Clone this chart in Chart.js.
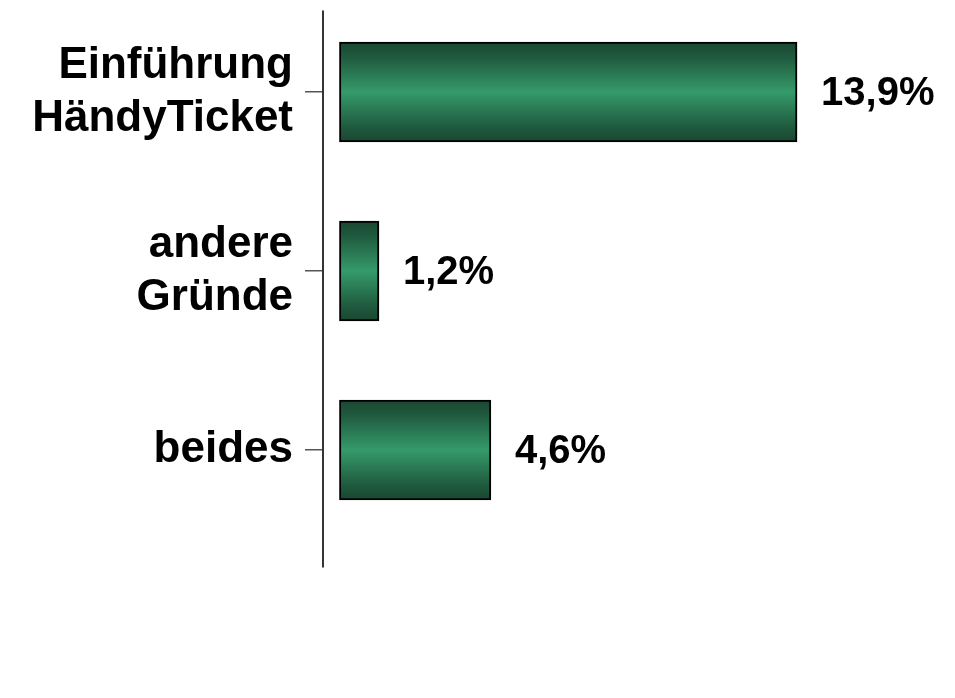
<!DOCTYPE html>
<html>
<head>
<meta charset="utf-8">
<script src="https://cdn.jsdelivr.net/npm/chart.js@4"></script>
<style>
  html, body { margin: 0; padding: 0; background: #fff; }
  #wrap { width: 955px; height: 698px; }
</style>
</head>
<body>
<div id="wrap"><canvas id="barChart"></canvas></div>
<script>
// Gründe (Anteile in %)
const categories = [["Einführung", "HändyTicket"], ["andere", "Gründe"], "beides"];
const shares = [13.9, 1.2, 4.6];
const valueLabels = ["13,9%", "1,2%", "4,6%"];

const FONT = "'Liberation Sans', Arial, sans-serif";
const BAR_THICKNESS = 100;

// dark green at top and bottom edge, lighter green in the middle
function barFill(ctx) {
  const chart = ctx.chart;
  const yScale = chart.scales.y;
  if (!yScale || ctx.dataIndex === undefined) return "#2e8b5e";
  const mid = yScale.getPixelForValue(ctx.dataIndex);
  if (!isFinite(mid)) return "#2e8b5e";
  const top = mid - BAR_THICKNESS / 2;
  const g = chart.ctx.createLinearGradient(0, top, 0, top + BAR_THICKNESS);
  g.addColorStop(0, "#1a4631");
  g.addColorStop(0.15, "#1f5a3e");
  g.addColorStop(0.5, "#359a6a");
  g.addColorStop(0.85, "#1f5a3e");
  g.addColorStop(1, "#1a4631");
  return g;
}

// vertical axis line, a bit longer than the category area
const axisLine = {
  id: "axisLine",
  afterDraw(chart) {
    const { ctx, chartArea } = chart;
    ctx.save();
    ctx.strokeStyle = "#333";
    ctx.lineWidth = 2;
    ctx.beginPath();
    ctx.moveTo(chartArea.left, chartArea.top + 8);
    ctx.lineTo(chartArea.left, chartArea.bottom + 28);
    ctx.stroke();
    ctx.restore();
  }
};

// percentage labels right of each bar
const valueText = {
  id: "valueText",
  afterDatasetsDraw(chart) {
    const ctx = chart.ctx;
    ctx.save();
    ctx.font = "bold 40px " + FONT;
    ctx.fillStyle = "#000";
    ctx.textAlign = "left";
    ctx.textBaseline = "middle";
    chart.getDatasetMeta(0).data.forEach((bar, i) => {
      ctx.fillText(valueLabels[i], bar.x + 24, bar.y + 2);
    });
    ctx.restore();
  }
};

new Chart(document.getElementById("barChart"), {
  type: "bar",
  data: {
    labels: categories,
    datasets: [{
      data: shares,
      backgroundColor: barFill,
      borderColor: "#000",
      borderWidth: 2,
      borderSkipped: false,
      barThickness: BAR_THICKNESS
    }]
  },
  options: {
    indexAxis: "y",
    responsive: true,
    maintainAspectRatio: false,
    animation: false,
    layout: { padding: { top: 2.5, bottom: 158.5, left: 0, right: 23 } },
    scales: {
      x: {
        display: false,
        min: -0.5,
        max: 18
      },
      y: {
        afterFit(scale) {
          scale.width = 323;
          scale.paddingTop = 0;
          scale.paddingBottom = 0;
        },
        border: { display: false },
        grid: {
          drawOnChartArea: false,
          drawTicks: true,
          tickLength: 18,
          offset: false,
          color: "#555",
          lineWidth: 1.5
        },
        ticks: {
          color: "#000",
          padding: 12,
          font: { family: FONT, size: 44, weight: "bold", lineHeight: 1.2 }
        }
      }
    },
    plugins: {
      legend: { display: false },
      tooltip: { enabled: false }
    }
  },
  plugins: [axisLine, valueText]
});
</script>
</body>
</html>
